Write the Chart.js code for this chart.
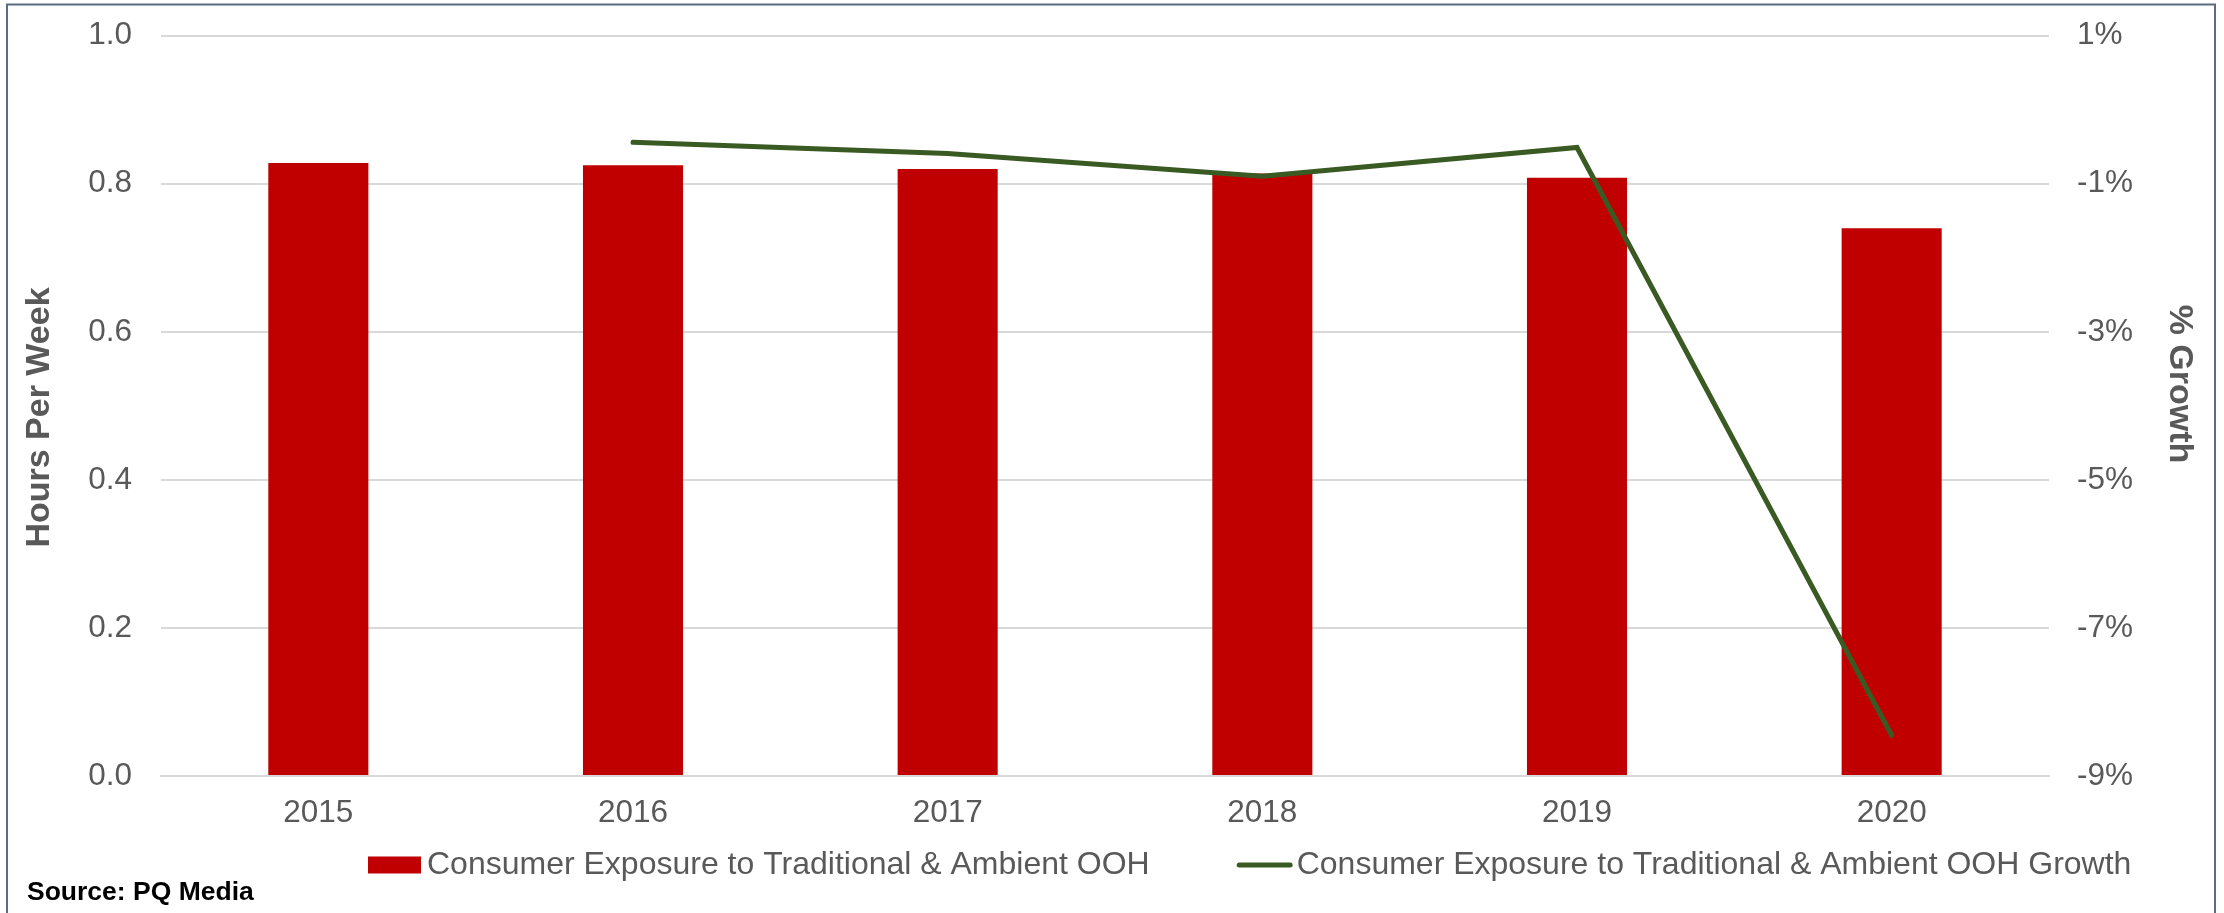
<!DOCTYPE html>
<html>
<head>
<meta charset="utf-8">
<script src="https://cdn.jsdelivr.net/npm/chart.js@4/dist/chart.umd.min.js"></script>
<style>
  html, body { margin: 0; padding: 0; background: #ffffff; }
  #wrap { position: relative; width: 2224px; height: 913px; }
</style>
</head>
<body>
<div id="wrap"><canvas id="ooh"></canvas></div>
<script>
// Consumer exposure to traditional & ambient OOH, hours per week and yearly growth
const years = ['2015', '2016', '2017', '2018', '2019', '2020'];
const exposureHours = [0.828, 0.825, 0.820, 0.814, 0.808, 0.740];
const exposureGrowth = [null, -0.44, -0.59, -0.90, -0.51, -8.45]; // percent

const hoursAxis = { min: 0, max: 1, step: 0.2, title: 'Hours Per Week' };
const growthAxis = { min: -9, max: 1, step: 2, title: '% Growth' };

const TEXT_GREY = '#595959';
const FONT = '"Liberation Sans", Arial, sans-serif';

function rotatedText(ctx, text, x, y, angle) {
    ctx.save();
    ctx.translate(x, y);
    ctx.rotate(angle);
    ctx.fillText(text, 0, 0);
    ctx.restore();
}

// frame, axis titles, legend and source note drawn on top of the chart
const chartExtras = {
    id: 'chartExtras',
    afterDraw(chart) {
        const { ctx } = chart;
        const [growthSet, hoursSet] = chart.data.datasets;
        ctx.save();

        ctx.strokeStyle = '#5b6a80';
        ctx.lineWidth = 2;
        ctx.strokeRect(7, 4.5, 2208, 1000);

        // axis titles
        ctx.fillStyle = TEXT_GREY;
        ctx.font = `bold 34px ${FONT}`;
        ctx.textAlign = 'center';
        ctx.textBaseline = 'middle';
        rotatedText(ctx, hoursAxis.title, 39.5, 417.5, -Math.PI / 2);
        rotatedText(ctx, growthAxis.title, 2179, 384, Math.PI / 2);

        // legend
        const y = 865;
        let x = 368;
        ctx.font = `32px ${FONT}`;
        ctx.textAlign = 'left';

        ctx.fillStyle = hoursSet.backgroundColor;
        ctx.fillRect(x, y - 8.5, 53, 17);
        x += 59;
        ctx.fillStyle = TEXT_GREY;
        ctx.fillText(hoursSet.label, x, y);
        x += ctx.measureText(hoursSet.label).width + 87;

        ctx.strokeStyle = growthSet.borderColor;
        ctx.lineWidth = 5;
        ctx.lineCap = 'round';
        ctx.beginPath();
        ctx.moveTo(x + 2.5, y);
        ctx.lineTo(x + 53.5, y);
        ctx.stroke();
        x += 60;
        ctx.fillText(growthSet.label, x, y);

        ctx.fillStyle = '#000000';
        ctx.font = `bold 26.5px ${FONT}`;
        ctx.fillText('Source: PQ Media', 27, 893);

        ctx.restore();
    }
};

// fixed axis widths; tick padding should not push the plot area down
function fixVertical(width) {
    return scale => {
        scale.width = width;
        scale.paddingTop = 0;
        scale.paddingBottom = 0;
    };
}

new Chart(document.getElementById('ooh'), {
    type: 'bar',
    data: {
        labels: years,
        datasets: [
            {
                type: 'line',
                label: 'Consumer Exposure to Traditional & Ambient OOH Growth',
                data: exposureGrowth,
                yAxisID: 'y1',
                borderColor: '#3a5a24',
                backgroundColor: '#3a5a24',
                borderWidth: 5,
                borderCapStyle: 'round',
                borderJoinStyle: 'miter',
                pointRadius: 0,
                tension: 0,
                order: 0,
            },
            {
                label: 'Consumer Exposure to Traditional & Ambient OOH',
                data: exposureHours,
                yAxisID: 'y',
                backgroundColor: '#c00000',
                barPercentage: 0.318,
                categoryPercentage: 1,
                order: 1,
            },
        ]
    },
    options: {
        responsive: true,
        maintainAspectRatio: false,
        animation: false,
        layout: { padding: { top: 35.7, left: 0, right: 0, bottom: 0 } },
        plugins: {
            legend: { display: false },
            tooltip: { enabled: false }
        },
        scales: {
            x: {
                grid: { display: false, drawTicks: false },
                border: { color: '#d9d9d9', width: 2 },
                ticks: { color: TEXT_GREY, font: { family: FONT, size: 31.5 }, padding: 18.4 },
                afterFit: scale => {
                    scale.height = 137;
                    scale.paddingLeft = 0;
                    scale.paddingRight = 0;
                }
            },
            y: {
                position: 'left',
                min: hoursAxis.min,
                max: hoursAxis.max,
                grid: { color: '#d9d9d9', lineWidth: 2, drawTicks: false },
                border: { display: false },
                ticks: {
                    stepSize: hoursAxis.step,
                    color: TEXT_GREY,
                    font: { family: FONT, size: 31.5 },
                    padding: 29,
                    callback: v => v.toFixed(1)
                },
                afterFit: fixVertical(161)
            },
            y1: {
                position: 'right',
                min: growthAxis.min,
                max: growthAxis.max,
                grid: { display: false, drawTicks: false },
                border: { display: false },
                ticks: {
                    stepSize: growthAxis.step,
                    color: TEXT_GREY,
                    font: { family: FONT, size: 31.5 },
                    padding: 28,
                    callback: v => v + '%'
                },
                afterFit: fixVertical(175)
            }
        }
    },
    plugins: [chartExtras]
});
</script>
</body>
</html>
